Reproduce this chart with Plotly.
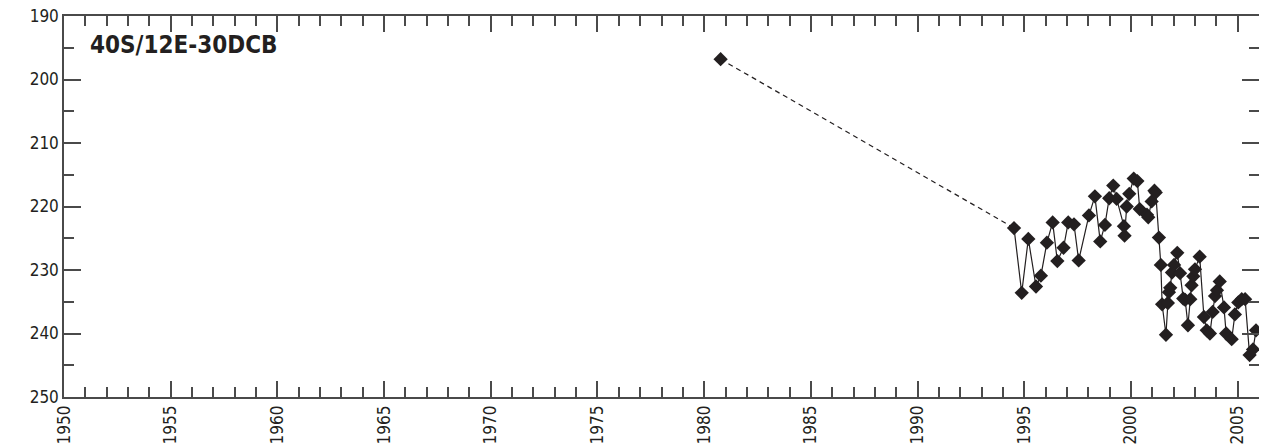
import plotly.graph_objects as go

# Water level data (year, depth value)
years = [1980.77, 1994.52, 1994.88, 1995.19, 1995.55, 1995.78, 1996.06, 1996.33, 1996.55,
         1996.84, 1997.06, 1997.33, 1997.55, 1998.03, 1998.31, 1998.56, 1998.78, 1998.98,
         1999.17, 1999.33, 1999.67, 1999.70, 1999.80, 1999.92, 2000.13, 2000.30, 2000.41,
         2000.75, 2000.81, 2000.97, 2001.10, 2001.16, 2001.31, 2001.40, 2001.46, 2001.64,
         2001.73, 2001.78, 2001.84, 2001.92, 2002.02, 2002.17, 2002.30, 2002.45, 2002.54,
         2002.67, 2002.78, 2002.84, 2002.92, 2003.00, 2003.22, 2003.42, 2003.55, 2003.70,
         2003.83, 2003.94, 2004.03, 2004.16, 2004.36, 2004.46, 2004.72, 2004.87, 2005.03,
         2005.19, 2005.35, 2005.56, 2005.72, 2005.86]
values = [196.8, 223.4, 233.6, 225.1, 232.6, 230.9, 225.7, 222.5, 228.6,
          226.5, 222.5, 222.8, 228.5, 221.4, 218.4, 225.5, 222.9, 218.7,
          216.7, 218.8, 223.1, 224.6, 220.0, 218.0, 215.6, 216.0, 220.4,
          221.3, 221.7, 219.2, 217.5, 217.8, 224.9, 229.2, 235.4, 240.2,
          235.2, 233.5, 232.8, 230.4, 229.2, 227.3, 230.5, 234.5, 234.7,
          238.7, 234.6, 232.4, 231.0, 229.9, 227.9, 237.4, 239.5, 240.0,
          236.6, 234.1, 233.2, 231.8, 235.9, 240.0, 240.9, 237.0, 235.1,
          234.6, 234.6, 243.4, 242.5, 239.5]

x_ticks = list(range(1950, 2006, 5))
y_ticks = list(range(190, 251, 10))
well_label = "40S/12E-30DCB"

ink = "#231f20"
axis_col = "#4a4a4a"
font_family = "DejaVu Sans Condensed, Liberation Sans Narrow, Arial Narrow, sans-serif"

fig = go.Figure()

# dashed gap segment between first two measurements
fig.add_trace(go.Scatter(
    x=years[:2], y=values[:2], mode="lines",
    line=dict(color=ink, width=1.2, dash="5px,4px"),
    hoverinfo="skip", showlegend=False))

# continuous record
fig.add_trace(go.Scatter(
    x=years[1:], y=values[1:], mode="lines",
    line=dict(color=ink, width=1.2),
    showlegend=False))

# markers
fig.add_trace(go.Scatter(
    x=years, y=values, mode="markers",
    marker=dict(symbol="diamond", size=11, color=ink, line=dict(width=0)),
    showlegend=False))

fig.add_annotation(
    text="<b>" + well_label + "</b>", xref="paper", yref="paper",
    x=0.02, y=0.965, xanchor="left", yanchor="top", showarrow=False,
    font=dict(family=font_family, size=24, color=ink))

fig.update_xaxes(
    range=[1950, 2006], tickmode="array", tickvals=x_ticks,
    ticktext=[str(v) for v in x_ticks], tickangle=-90,
    ticks="inside", ticklen=16, tickwidth=1.5, tickcolor=axis_col,
    minor=dict(dtick=1, tick0=1950, ticks="inside", ticklen=10, tickwidth=1.5, tickcolor=axis_col),
    showline=True, linecolor=axis_col, linewidth=1.5, mirror="ticks",
    showgrid=False, zeroline=False, automargin=False, ticklabeloverflow="allow",
    tickfont=dict(family=font_family, size=17, color=ink))

fig.update_yaxes(
    range=[250, 190], tickmode="array", tickvals=y_ticks,
    ticktext=[str(v) for v in y_ticks],
    ticks="inside", ticklen=17, tickwidth=1.5, tickcolor=axis_col,
    minor=dict(dtick=5, tick0=190, ticks="inside", ticklen=10, tickwidth=1.5, tickcolor=axis_col),
    showline=True, linecolor=axis_col, linewidth=1.5, mirror="ticks",
    showgrid=False, zeroline=False, automargin=False, ticklabeloverflow="allow",
    tickfont=dict(family=font_family, size=17, color=ink))

# page body has an 8px default margin, so the figure is sized to fit the window
fig.update_layout(
    width=1259, height=436,
    margin=dict(l=56, r=8, t=8, b=47),
    paper_bgcolor="white", plot_bgcolor="white",
    showlegend=False)

fig.write_html("out.html")
